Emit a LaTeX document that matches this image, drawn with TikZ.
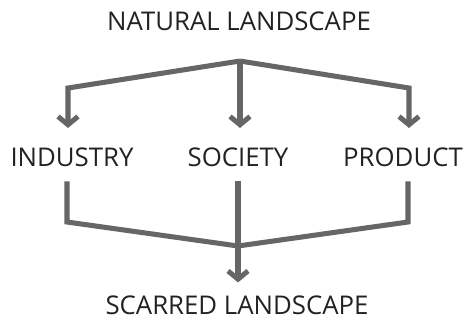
\documentclass[tikz,border=0pt]{standalone}
\usepackage{fontspec}
\setmainfont{Open Sans}
\usetikzlibrary{arrows.meta}
\definecolor{linegray}{HTML}{666666}
\definecolor{textgray}{HTML}{222222}
\begin{document}
\begin{tikzpicture}[
    x=0.03cm, y=-0.03cm,
    line cap=butt,
    line join=miter,
    label/.style={text=textgray, inner sep=0pt, font=\fontsize{22}{26}\selectfont},
    link/.style={draw=linegray, line width=4.3pt},
    flow/.style={link, -{Straight Barb[length=7pt, width=17pt, line width=4.3pt]}}
]
\useasboundingbox (0,0) rectangle (465,324);

% labels
\node[label] (natural) at (239,21)  {NATURAL LANDSCAPE};
\node[label] (industry) at (72,157) {INDUSTRY};
\node[label] (society)  at (238,157) {SOCIETY};
\node[label] (product)  at (403,157) {PRODUCT};
\node[label] (scarred)  at (237,305) {SCARRED LANDSCAPE};

% junctions
\coordinate (top) at (240,61);
\coordinate (tl) at (68,88);
\coordinate (tr) at (409,88);
\coordinate (bl) at (67,222);
\coordinate (br) at (408,222);
\coordinate (bot) at (238,246);

% upper split
\draw[flow, shorten >=16.5pt] (top) -- (tl) -- (tl |- industry.north);
\draw[flow, shorten >=16.5pt] (top) -- (top |- society.north);
\draw[flow, shorten >=16.5pt] (top) -- (tr) -- (tr |- product.north);

% lower merge
\draw[link, shorten <=12.5pt] (bl |- industry.south) -- (bl) -- (bot);
\draw[link, shorten <=12.5pt] (br |- product.south) -- (br) -- (bot);
\draw[flow, shorten <=12.5pt, shorten >=11pt] (bot |- society.south) -- (bot) -- (bot |- scarred.north);
\end{tikzpicture}
\end{document}
